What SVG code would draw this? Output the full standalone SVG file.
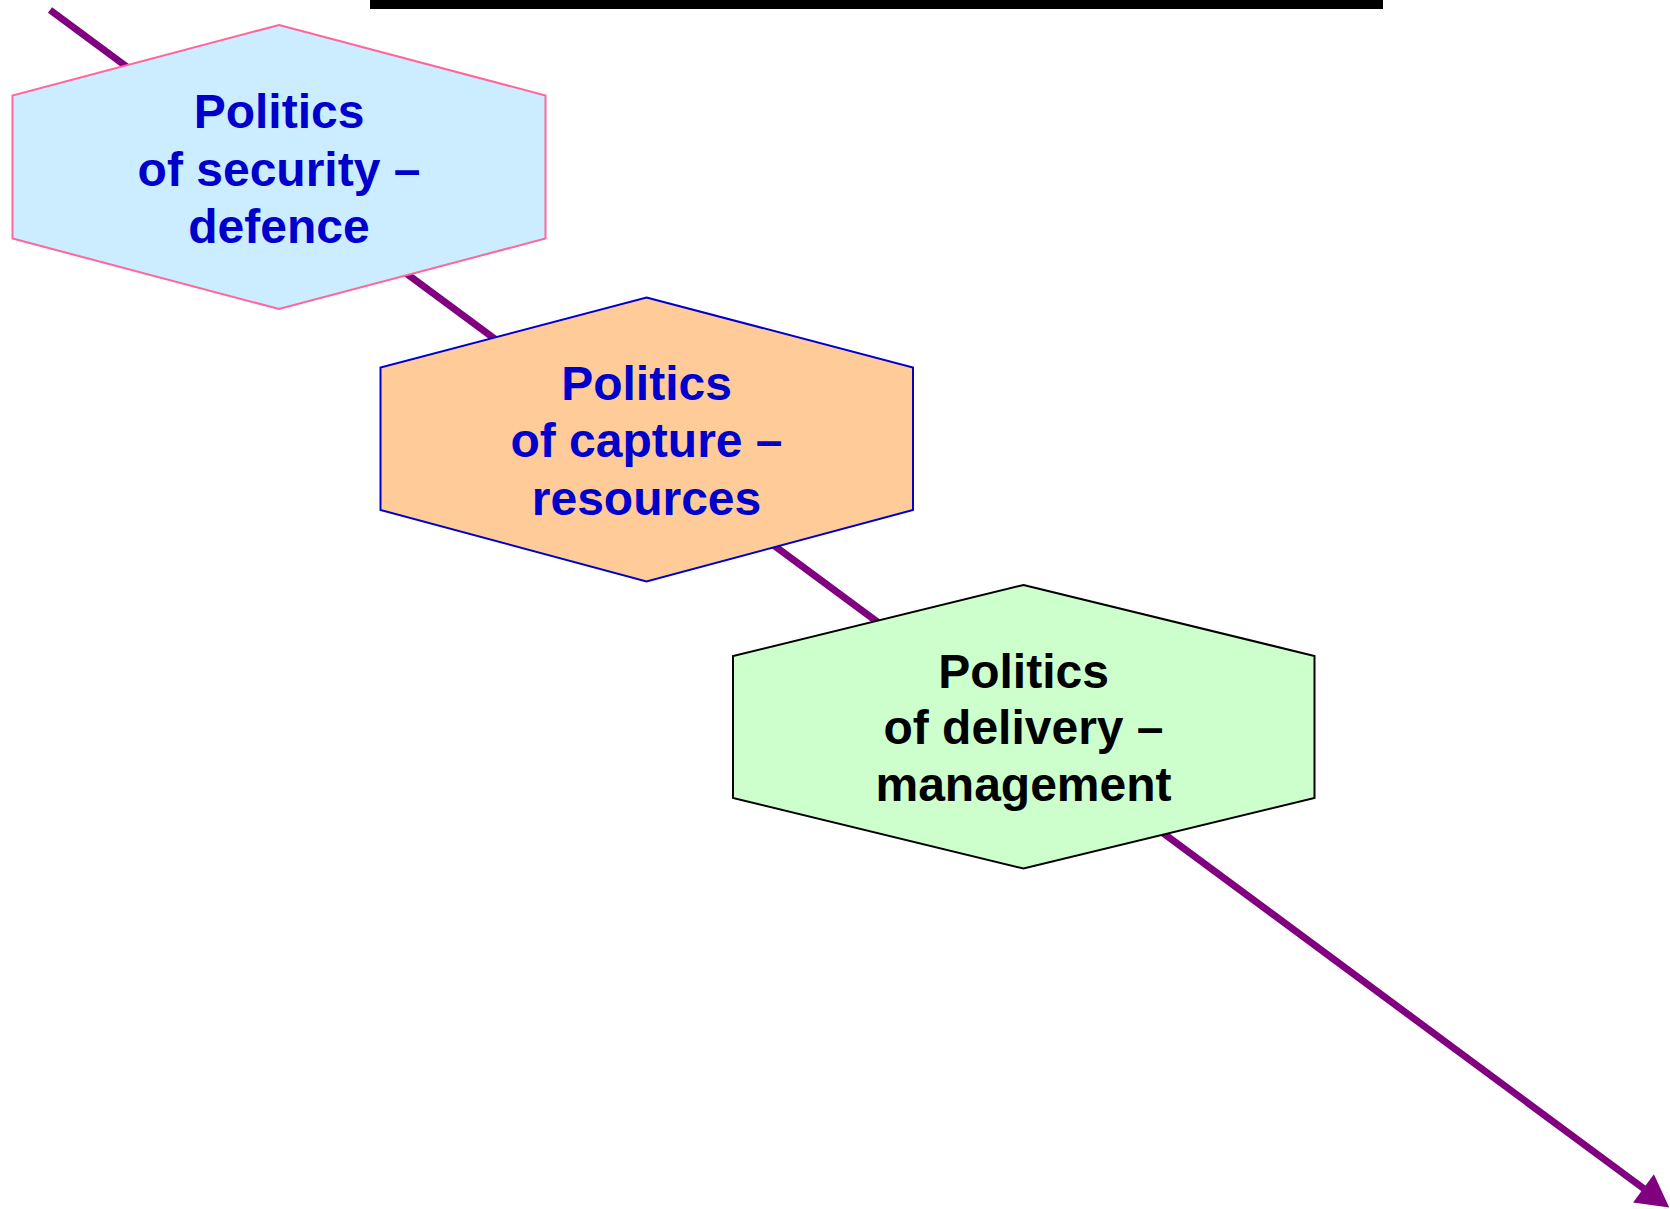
<svg xmlns="http://www.w3.org/2000/svg" width="1670" height="1209" viewBox="0 0 1670 1209">
<style>
.lbl{font-family:"Liberation Sans",Arial,Helvetica,sans-serif;font-weight:bold;font-size:48px;text-anchor:middle}
.blue{fill:#0000CC}
.blk{fill:#000000}
.hex{stroke-width:2}
</style>
<defs>
<marker id="arr" markerUnits="userSpaceOnUse" markerWidth="33" markerHeight="36" refX="1" refY="17.5" orient="auto" overflow="visible">
<path d="M0,0 L32,17.5 L0,35 Z" fill="#800080"/>
</marker>
</defs>
<rect id="topbar" x="370" y="0" width="1013" height="9" fill="#000000"/>
<g id="connectors">
<line x1="50" y1="10" x2="1644.3" y2="1189" stroke="#800080" stroke-width="7" marker-end="url(#arr)"/>
</g>
<g id="node-security">
<polygon class="hex" points="279,25 545.5,95.5 545.5,238.5 279,309 12.5,238.5 12.5,95.5" fill="#CCECFF" stroke="#FF6699"/>
<text class="lbl blue"><tspan x="279" y="128">Politics</tspan><tspan x="279" y="185.5">of security –</tspan><tspan x="279" y="243">defence</tspan></text>
</g>
<g id="node-capture">
<polygon class="hex" points="646.5,297.5 913,367.5 913,510 646.5,581.5 380.5,510 380.5,367.5" fill="#FFCC99" stroke="#0000CC"/>
<text class="lbl blue"><tspan x="646.5" y="400">Politics</tspan><tspan x="646.5" y="457">of capture –</tspan><tspan x="646.5" y="515">resources</tspan></text>
</g>
<g id="node-delivery">
<polygon class="hex" points="1023.5,585 1314.5,656 1314.5,798 1023.5,868.5 733,798 733,656" fill="#CCFFCC" stroke="#000000"/>
<text class="lbl blk"><tspan x="1023.5" y="687.5">Politics</tspan><tspan x="1023.5" y="743.5">of delivery –</tspan><tspan x="1023.5" y="801">management</tspan></text>
</g>
</svg>
